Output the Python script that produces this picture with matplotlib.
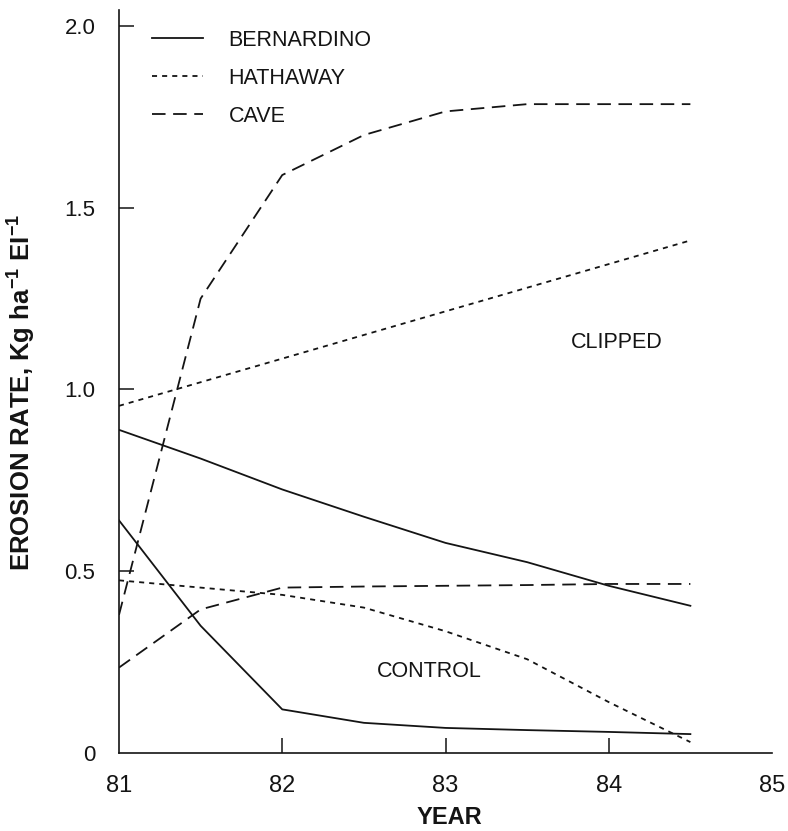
import matplotlib
matplotlib.use("Agg")
import matplotlib.pyplot as plt

plt.rcParams["font.family"] = ["Liberation Sans", "DejaVu Sans"]
plt.rcParams["mathtext.default"] = "regular"

# ── data ──────────────────────────────────────────────────────────────────
years = [81.0, 81.5, 82.0, 82.5, 83.0, 83.5, 84.0, 84.5]

bern_clipped = [0.889, 0.81, 0.725, 0.65, 0.578, 0.525, 0.46, 0.405]
hath_clipped = [0.955, 1.02, 1.085, 1.15, 1.215, 1.28, 1.345, 1.41]
cave_clipped = [0.38, 1.25, 1.59, 1.70, 1.765, 1.785, 1.785, 1.785]

bern_control = [0.64, 0.35, 0.12, 0.083, 0.069, 0.063, 0.058, 0.052]
hath_control = [0.475, 0.455, 0.435, 0.40, 0.335, 0.258, 0.14, 0.03]
cave_control = [0.235, 0.395, 0.455, 0.458, 0.46, 0.462, 0.465, 0.465]

xticks = [81, 82, 83, 84, 85]
yticks = [0, 0.5, 1.0, 1.5, 2.0]
ytick_labels = ["0", "0.5", "1.0", "1.5", "2.0"]

# ── styles ─────────────────────────────────────────────────────────────────
INK = "#141414"
LW = 1.3
SOLID = "-"
SHORT = (0, (2.8, 2.8))
LONG = (0, (7.5, 4.2))

fig = plt.figure(figsize=(7.88, 8.31), dpi=100)
ax = fig.add_axes([119 / 788, 1 - 753 / 831, 653 / 788, 743 / 831])

ax.plot(years, bern_clipped, color=INK, lw=LW, ls=SOLID, label="BERNARDINO")
ax.plot(years, hath_clipped, color=INK, lw=LW, ls=SHORT, label="HATHAWAY")
ax.plot(years, cave_clipped, color=INK, lw=LW, ls=LONG, label="CAVE")
ax.plot(years, bern_control, color=INK, lw=LW, ls=SOLID)
ax.plot(years, hath_control, color=INK, lw=LW, ls=SHORT)
ax.plot(years, cave_control, color=INK, lw=LW, ls=LONG)

ax.set_xlim(81, 85)
ax.set_ylim(0, 2.044)

for s in ("top", "right"):
    ax.spines[s].set_visible(False)
for s in ("left", "bottom"):
    ax.spines[s].set_linewidth(1.2)
    ax.spines[s].set_color(INK)

ax.set_xticks(xticks)
ax.set_xticklabels([str(v) for v in xticks])
ax.set_yticks(yticks)
ax.set_yticklabels(ytick_labels)
ax.tick_params(axis="x", direction="in", length=10.5, width=1.1, pad=16,
               labelsize=17, colors=INK)
ax.tick_params(axis="y", direction="in", length=10.5, width=1.1, pad=17,
               labelsize=16, colors=INK)
# no tick marks at the axis ends
ax.xaxis.get_major_ticks()[0].tick1line.set_visible(False)
ax.xaxis.get_major_ticks()[-1].tick1line.set_visible(False)
ax.yaxis.get_major_ticks()[0].tick1line.set_visible(False)

fig.text(449 / 788, 1 - 818 / 831, "YEAR", ha="center", va="center",
         fontsize=17, fontweight="bold", color=INK)
fig.text(22 / 788, 1 - 392 / 831, "EROSION RATE, Kg ha$^{-1}$ EI$^{-1}$",
         rotation=90, ha="center", va="center",
         fontsize=18.5, fontweight="bold", color=INK)

ax.text(84.05, 1.128, "CLIPPED", ha="center", va="center", fontsize=15.5,
        color=INK)
ax.text(82.9, 0.225, "CONTROL", ha="center", va="center", fontsize=15.5,
        color=INK)

leg = ax.legend(loc="upper left", bbox_to_anchor=(152 / 788, 1 - 30 / 831),
                bbox_transform=fig.transFigure, frameon=False, fontsize=15.5,
                borderpad=0, borderaxespad=0, handlelength=2.35,
                handletextpad=1.2, labelspacing=0.78)
for t in leg.get_texts():
    t.set_color(INK)

fig.savefig("out.png", dpi=100, facecolor="white")
